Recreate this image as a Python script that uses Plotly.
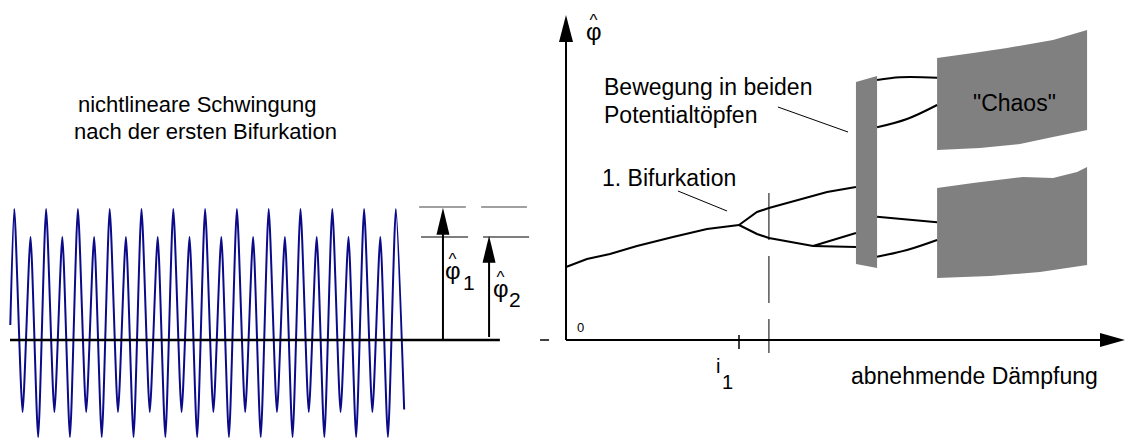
import plotly.graph_objects as go

# ---------------- left panel: oscillation after the first bifurcation ----------------
# one period of the doubled oscillation: phase of each extremum and its amplitude
cycle_phase = [0.0, 0.26, 0.51, 0.75]
cycle_value = [1.0, -0.55, 0.786, -0.74]
n_cycles = 12
wave_head_t, wave_head_v = [-0.126], [0.115]
wave_tail_t, wave_tail_v = [12.0, 12.26], [1.0, -0.53]

phi1_level = 1.0
phi2_level = 0.786
marker_t = [13.48, 14.93]
zero_line_t = [-0.135, 15.27]
gray_level_segments = [(12.73, 14.20), (14.68, 16.12)]
black_level_segments = [(12.79, 14.27), (14.74, 16.19)]

# ---------------- right panel: amplitude vs. decreasing damping ----------------
stem_x = [0.0, 0.121, 0.254, 0.410, 0.618, 0.815, 1.0]
stem_y = [0.73, 0.81, 0.86, 0.94, 1.03, 1.11, 1.15]
upper_x = [1.0, 1.104, 1.173, 1.295, 1.509, 1.676]
upper_y = [1.15, 1.28, 1.32, 1.38, 1.48, 1.53]
lower_x = [1.0, 1.104, 1.173, 1.295, 1.428]
lower_y = [1.15, 1.06, 1.02, 0.98, 0.94]
lower_up_x, lower_up_y = [1.428, 1.676], [0.94, 1.07]
lower_flat_x, lower_flat_y = [1.428, 1.676], [0.94, 0.93]

i1 = 1.0
marker_x = 1.173

band_x = [1.676, 1.798, 1.798, 1.676]
band_y = [2.58, 2.64, 0.72, 0.76]

chaos_hi_top_x = [2.145, 2.353, 2.549, 2.815, 3.012]
chaos_hi_top_y = [2.82, 2.87, 2.92, 3.00, 3.10]
chaos_hi_bot_x = [3.012, 2.815, 2.624, 2.393, 2.145]
chaos_hi_bot_y = [2.10, 2.03, 1.96, 1.92, 1.90]
chaos_lo_top_x = [2.145, 2.353, 2.642, 2.815, 2.954, 3.012]
chaos_lo_top_y = [1.52, 1.57, 1.63, 1.62, 1.68, 1.73]
chaos_lo_bot_x = [3.012, 2.740, 2.451, 2.145]
chaos_lo_bot_y = [0.75, 0.68, 0.64, 0.62]

links = [
    ([1.798, 1.931, 2.145], [2.60, 2.627, 2.623]),
    ([1.798, 1.971, 2.145], [2.127, 2.21, 2.35]),
    ([1.798, 2.145], [1.233, 1.177]),
    ([1.798, 1.971, 2.145], [0.833, 0.90, 1.00]),
]

x_axis_end = 3.231
y_axis_end = 3.25

FONT = "Liberation Sans, Arial, sans-serif"
WAVE = "#0b0b8a"
GRAY = "#808080"
# phi with a circumflex: the raised caret is pulled back over the letter
PHI_HAT = ("<span style='font-size:24px;letter-spacing:-12px'>\u03c6</span>"
           "<span style='font-size:17px;baseline-shift:14px'>^</span>")

# build the wave from the per-period extrema
wave_t = list(wave_head_t)
wave_v = list(wave_head_v)
for k in range(n_cycles):
    for ph, val in zip(cycle_phase, cycle_value):
        wave_t.append(k + ph)
        wave_v.append(val)
wave_t += wave_tail_t
wave_v += wave_tail_v

fig = go.Figure()

L = dict(xaxis="x", yaxis="y")
R = dict(xaxis="x2", yaxis="y2")

fig.add_trace(go.Scatter(x=wave_t, y=wave_v, mode="lines",
                         line=dict(color=WAVE, width=2, shape="spline", smoothing=0.6), **L))

# right panel filled regions
fig.add_trace(go.Scatter(x=band_x, y=band_y, fill="toself", fillcolor=GRAY,
                         mode="none", **R))
fig.add_trace(go.Scatter(x=chaos_hi_top_x + chaos_hi_bot_x, y=chaos_hi_top_y + chaos_hi_bot_y,
                         fill="toself", fillcolor=GRAY, mode="none", **R))
fig.add_trace(go.Scatter(x=chaos_lo_top_x + chaos_lo_bot_x, y=chaos_lo_top_y + chaos_lo_bot_y,
                         fill="toself", fillcolor=GRAY, mode="none", **R))

branch = dict(color="black", width=2)
for xs, ys in [(stem_x, stem_y), (upper_x, upper_y), (lower_x, lower_y),
               (lower_up_x, lower_up_y), (lower_flat_x, lower_flat_y)]:
    fig.add_trace(go.Scatter(x=xs, y=ys, mode="lines", line=branch, **R))
for xs, ys in links:
    fig.add_trace(go.Scatter(x=xs, y=ys, mode="lines",
                             line=dict(color="black", width=2, shape="spline"), **R))

shapes = []
# left: zero line, level markers, amplitude arrows
shapes.append(dict(type="line", xref="x", yref="y", x0=zero_line_t[0], x1=zero_line_t[1],
                   y0=0, y1=0, line=dict(color="black", width=2.5)))
for a, b in gray_level_segments:
    shapes.append(dict(type="line", xref="x", yref="y", x0=a, x1=b, y0=phi1_level + 0.015,
                       y1=phi1_level + 0.015, line=dict(color=GRAY, width=1.5)))
for a, b in black_level_segments:
    shapes.append(dict(type="line", xref="x", yref="y", x0=a, x1=b, y0=phi2_level,
                       y1=phi2_level, line=dict(color="black", width=1.2)))
for t, lvl, base in [(marker_t[0], phi1_level, 0.0), (marker_t[1], phi2_level, 0.023)]:
    shapes.append(dict(type="line", xref="x", yref="y", x0=t, x1=t, y0=base, y1=lvl - 0.1,
                       line=dict(color="black", width=2)))
    shapes.append(dict(type="path", xref="x", yref="y", xsizemode="pixel", ysizemode="pixel",
                       xanchor=t, yanchor=lvl + 0.01, path="M0,0 L-6.5,-27 L6.5,-27 Z",
                       fillcolor="black", line=dict(width=0)))

# right: axes with arrowheads
shapes.append(dict(type="line", xref="x2", yref="y2", x0=0, x1=0, y0=0, y1=y_axis_end - 0.2,
                   line=dict(color="black", width=2)))
shapes.append(dict(type="path", xref="x2", yref="y2", xsizemode="pixel", ysizemode="pixel",
                   xanchor=0, yanchor=y_axis_end, path="M0,0 L-7,-27 L7,-27 Z",
                   fillcolor="black", line=dict(width=0)))
shapes.append(dict(type="line", xref="x2", yref="y2", x0=0, x1=x_axis_end - 0.1, y0=0, y1=0,
                   line=dict(color="black", width=2)))
shapes.append(dict(type="path", xref="x2", yref="y2", xsizemode="pixel", ysizemode="pixel",
                   xanchor=x_axis_end, yanchor=0, path="M0,0 L-25,7 L-25,-7 Z",
                   fillcolor="black", line=dict(width=0)))
shapes.append(dict(type="line", xref="x2", yref="y2", x0=-0.150, x1=-0.098, y0=0, y1=0,
                   line=dict(color="black", width=1.5)))
# bifurcation tick and dashed marker
shapes.append(dict(type="line", xref="x2", yref="y2", x0=i1, x1=i1, y0=0.05, y1=-0.09,
                   line=dict(color="black", width=1.5)))
shapes.append(dict(type="line", xref="x2", yref="y2", x0=marker_x, x1=marker_x, y0=1.47, y1=-0.13,
                   line=dict(color="black", width=1, dash="47px,16px")))
# leader lines
shapes.append(dict(type="line", xref="x2", yref="y2", x0=1.225, y0=2.33, x1=1.630, y1=2.08,
                   line=dict(color="black", width=1)))
shapes.append(dict(type="line", xref="x2", yref="y2", x0=0.647, y0=1.49, x1=0.931, y1=1.29,
                   line=dict(color="black", width=1)))

fig.update_layout(shapes=shapes)

def txt(text, x, y, xref, yref, size=23, xanchor="center"):
    return dict(text=text, x=x, y=y, xref=xref, yref=yref, showarrow=False,
                xanchor=xanchor, yanchor="middle", font=dict(family=FONT, size=size, color="black"))

ann = [
    txt("nichtlineare Schwingung", 197 / 1129, 1 - 104 / 438, "paper", "paper", size=22),
    txt("nach der ersten Bifurkation", 205 / 1129, 1 - 131 / 438, "paper", "paper", size=22),
    # amplitude labels, left panel
    txt(PHI_HAT, 13.78, 0.56, "x", "y", size=24),
    txt("1", 14.05, 0.44, "x", "y", size=21, xanchor="left"),
    txt(PHI_HAT, 15.29, 0.42, "x", "y", size=24),
    txt("2", 15.50, 0.31, "x", "y", size=21, xanchor="left"),
    # right panel
    txt(PHI_HAT, 0.157, 3.12, "x2", "y2", size=24),
    txt("Bewegung in beiden", 0.208, 2.53, "x2", "y2", xanchor="left"),
    txt("Potentialtöpfen", 0.208, 2.25, "x2", "y2", xanchor="left"),
    txt("1. Bifurkation", 0.197, 1.62, "x2", "y2", xanchor="left"),
    txt("\"Chaos\"", 2.595, 2.37, "x2", "y2"),
    txt("abnehmende Dämpfung", 1.636, -0.36, "x2", "y2", xanchor="left"),
    txt("0", 0.081, 0.13, "x2", "y2", size=13),
    txt("i", 0.879, -0.26, "x2", "y2", size=20),
    txt("1", 0.936, -0.42, "x2", "y2", size=20),
]
fig.update_layout(annotations=ann)

hidden = dict(visible=False, fixedrange=True)
fig.update_layout(
    width=1129, height=438, autosize=False,
    margin=dict(l=0, r=0, t=0, b=0, pad=0),
    paper_bgcolor="white", plot_bgcolor="white", showlegend=False,
    xaxis=dict(range=[-0.4497, 35.054], domain=[0, 1], **hidden),
    yaxis=dict(range=[-0.748, 2.595], domain=[0, 1], **hidden),
    xaxis2=dict(range=[-3.2717, 3.2543], domain=[0, 1], overlaying="x", **hidden),
    yaxis2=dict(range=[-0.98, 3.40], domain=[0, 1], overlaying="y", **hidden),
)

fig.write_html("out.html", config=dict(displayModeBar=False),
               post_script="document.body.style.margin='0';")
